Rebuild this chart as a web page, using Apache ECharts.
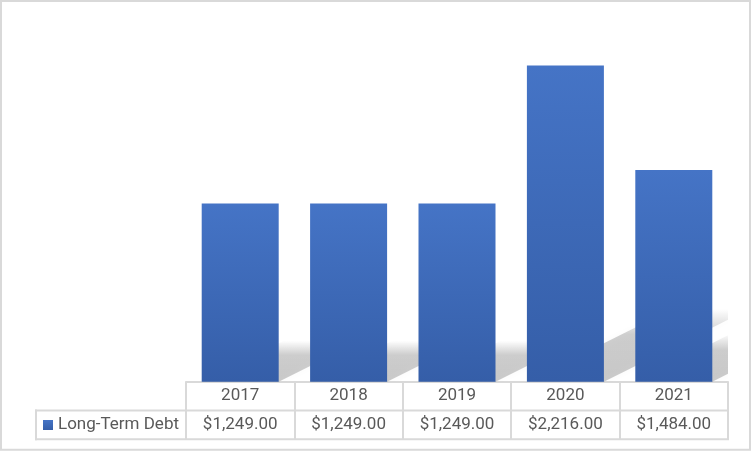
<!DOCTYPE html>
<html>
<head>
<meta charset="utf-8">
<script src="https://cdn.jsdelivr.net/npm/echarts@6/dist/echarts.min.js"></script>
<style>html,body{margin:0;padding:0;background:#fff}#c{width:752px;height:452px}</style>
</head>
<body>
<div id="c"></div>
<script>
var categories = ['2017', '2018', '2019', '2020', '2021'];
var seriesName = 'Long-Term Debt';
var debtValues = [1249, 1249, 1249, 2216, 1484];

function fmtMoney(v) {
  var s = v.toFixed(2).split('.');
  return '$' + s[0].replace(/\B(?=(\d{3})+(?!\d))/g, ',') + '.' + s[1];
}
var valueLabels = debtValues.map(fmtMoney);

var FONT = 'Roboto';
var TXT = '#595959';
var LINE = '#d9d9d9';
var barGrad = new echarts.graphic.LinearGradient(0, 0, 0, 1, [
  { offset: 0, color: '#4574c6' },
  { offset: 1, color: '#355ea8' }
]);

var chart = echarts.init(document.getElementById('c'), null, { renderer: 'canvas' });
chart.setOption({
  animation: false,
  backgroundColor: '#fff',
  grid: { left: 186, right: 24, top: 25, bottom: 70.3, containLabel: false },
  legend: {
    data: [{ name: seriesName, icon: 'rect' }],
    left: 43, top: 414, padding: 0, itemWidth: 10, itemHeight: 10, itemGap: 5,
    textStyle: { fontFamily: FONT, fontSize: 17, color: TXT, lineHeight: 22 }
  },
  xAxis: [{
    type: 'category', data: categories, position: 'bottom',
    axisLine: { show: true, lineStyle: { color: LINE, width: 2 } },
    axisTick: { show: true, length: 58, lineStyle: { color: LINE, width: 2 } },
    axisLabel: { margin: 14, verticalAlign: 'middle', fontFamily: FONT, fontSize: 17, color: TXT }
  }, {
    type: 'category', data: valueLabels, position: 'bottom',
    axisLine: { show: false }, axisTick: { show: false },
    axisLabel: { margin: 43, verticalAlign: 'middle', fontFamily: FONT, fontSize: 17, color: TXT }
  }],
  yAxis: { type: 'value', min: 0, max: 2500, show: false, splitLine: { show: false } },
  series: [{
    type: 'custom', name: 'shadow', z: 1, clip: true, silent: true,
    data: debtValues.map(function (v, i) { return [i, v]; }),
    renderItem: function (params, api) {
      var top = api.coord([api.value(0), api.value(1)]);
      var base = api.coord([api.value(0), 0]);
      var hw = 38.5;
      var h = (base[1] - top[1]) * 0.23;
      var s = h * 2;
      var xl = base[0] - hw, xr = base[0] + hw, y0 = base[1];
      return {
        type: 'polygon',
        shape: { points: [[xl, y0], [xr, y0], [xr + s, y0 - h], [xl + s, y0 - h]] },
        style: {
          fill: new echarts.graphic.LinearGradient(0, 0, 0, 1, [
            { offset: 0, color: 'rgba(0,0,0,0)' },
            { offset: 0.35, color: 'rgba(0,0,0,0.18)' },
            { offset: 1, color: 'rgba(0,0,0,0.2)' }
          ]),
          shadowBlur: 6,
          shadowColor: 'rgba(0,0,0,0.12)'
        }
      };
    }
  }, {
    type: 'bar', name: seriesName, z: 2, xAxisIndex: 0,
    data: debtValues, barWidth: 77,
    itemStyle: { color: barGrad }
  }],
  graphic: [
    { type: 'line', shape: { x1: 35, y1: 410.5, x2: 729, y2: 410.5 }, style: { stroke: LINE, lineWidth: 2 }, z: 10 },
    { type: 'line', shape: { x1: 35, y1: 439.3, x2: 729, y2: 439.3 }, style: { stroke: LINE, lineWidth: 2 }, z: 10 },
    { type: 'line', shape: { x1: 36, y1: 409.5, x2: 36, y2: 440.3 }, style: { stroke: LINE, lineWidth: 2 }, z: 10 },
    { type: 'rect', shape: { x: 1, y: 1, width: 749, height: 448.7 }, style: { fill: null, stroke: LINE, lineWidth: 2 }, z: 10 }
  ]
});
</script>
</body>
</html>
